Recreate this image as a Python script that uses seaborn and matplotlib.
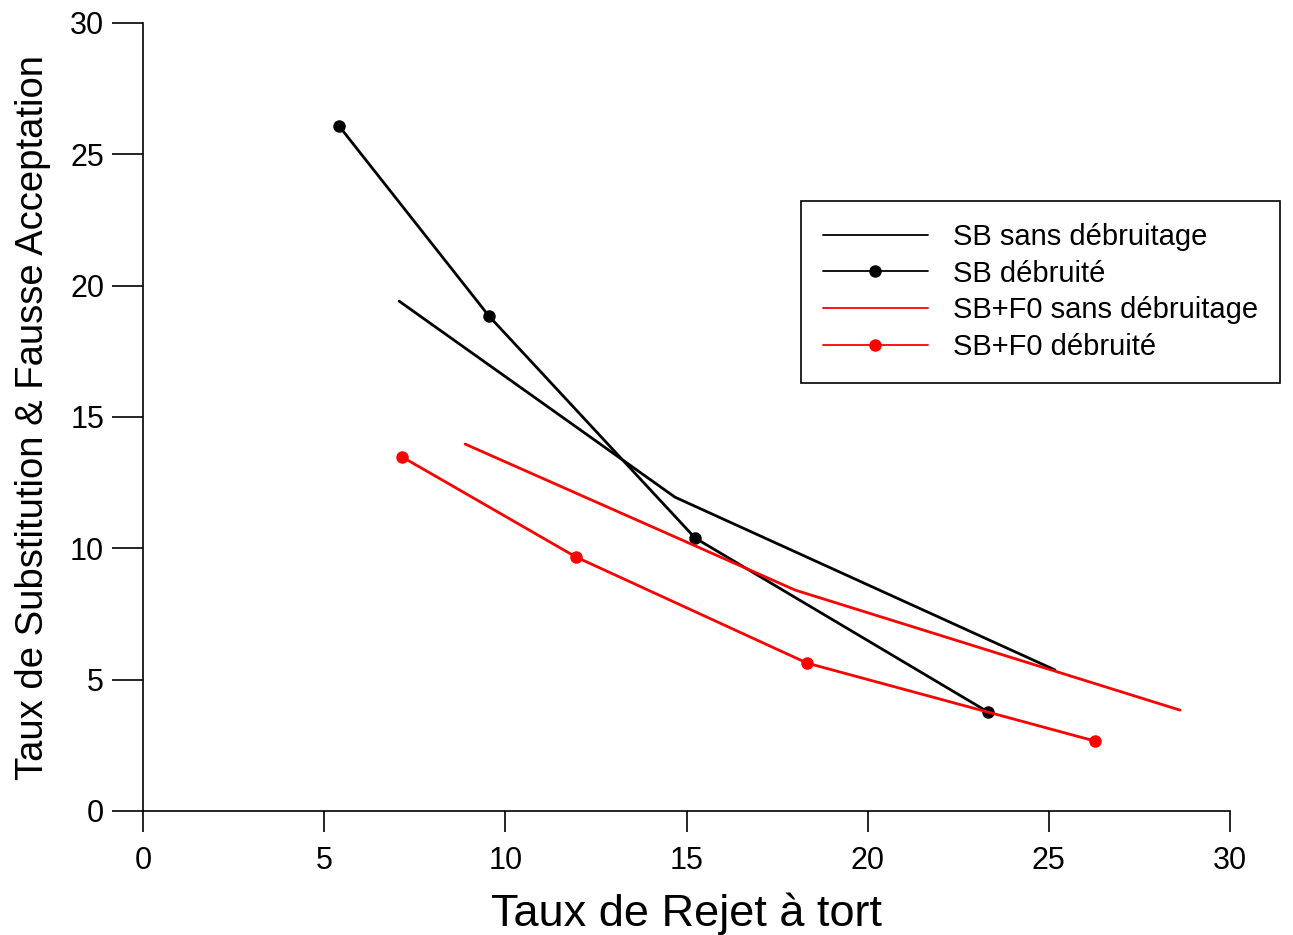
import matplotlib
matplotlib.use("Agg")
import matplotlib.pyplot as plt
import seaborn as sns
import pandas as pd

# Data
sb_sans_x = [7.07, 14.68, 25.17]
sb_sans_y = [19.41, 11.95, 5.37]

sb_deb_x = [5.41, 9.55, 15.24, 23.32]
sb_deb_y = [26.08, 18.84, 10.39, 3.77]

f0_sans_x = [8.89, 18.0, 28.62]
f0_sans_y = [13.97, 8.41, 3.84]

f0_deb_x = [7.15, 11.95, 18.33, 26.28]
f0_deb_y = [13.48, 9.67, 5.63, 2.66]

labels = ["SB sans débruitage", "SB débruité", "SB+F0 sans débruitage", "SB+F0 débruité"]
x_ticks = [0, 5, 10, 15, 20, 25, 30]
y_ticks = [0, 5, 10, 15, 20, 25, 30]

sns.set_theme(style="white")
plt.rcParams['font.family'] = ['Liberation Sans', 'DejaVu Sans']
plt.rcParams['text.color'] = 'black'
plt.rcParams['axes.labelcolor'] = 'black'
plt.rcParams['xtick.color'] = 'black'
plt.rcParams['ytick.color'] = 'black'

fig = plt.figure(figsize=(12.93, 9.35), dpi=100)
ax = fig.add_axes([143/1293, 1-811/935, (1230-143)/1293, (811-23)/935])

series = [
    (sb_sans_x, sb_sans_y, "black", None),
    (sb_deb_x, sb_deb_y, "black", "o"),
    (f0_sans_x, f0_sans_y, "red", None),
    (f0_deb_x, f0_deb_y, "red", "o"),
]
handles = []
for (xs, ys, col, mk), lab in zip(series, labels):
    df = pd.DataFrame({"x": xs, "y": ys})
    sns.lineplot(data=df, x="x", y="y", sort=False, color=col, marker=mk,
                 markersize=9, markeredgewidth=0, linewidth=2.0, ax=ax,
                 label=lab, legend=False)
    handles.append(ax.lines[-1])

ax.set_xlim(0, 30)
ax.set_ylim(0, 30)
ax.set_xticks(x_ticks)
ax.set_yticks(y_ticks)
ax.tick_params(axis='both', labelsize=22, color='black', width=1.2,
               direction='out', labelcolor='black')
ax.tick_params(axis='x', length=15, pad=10, bottom=True)
ax.tick_params(axis='y', length=22, pad=6, left=True)
for s in ["top", "right"]:
    ax.spines[s].set_visible(False)
for s in ["left", "bottom"]:
    ax.spines[s].set_color("black")
    ax.spines[s].set_linewidth(1.2)

ax.set_xlabel("Taux de Rejet à tort", fontsize=32.5, labelpad=12, color='black')
ax.set_ylabel("Taux de Substitution & Fausse Acceptation", fontsize=27.5,
              labelpad=14, color='black')

leg = fig.legend(handles=handles, labels=labels, loc="upper left",
                 bbox_to_anchor=(801/1293, 1-201/935), bbox_transform=fig.transFigure,
                 fontsize=21, frameon=True, fancybox=False, framealpha=1,
                 edgecolor='black', handlelength=3.6, handletextpad=0.85,
                 labelspacing=0.3, borderpad=0.75, borderaxespad=0,
                 labelcolor='black')
leg.get_frame().set_linewidth(1.2)
for line in leg.get_lines():
    line.set_linewidth(1.3)

fig.savefig("out.png", dpi=100)
